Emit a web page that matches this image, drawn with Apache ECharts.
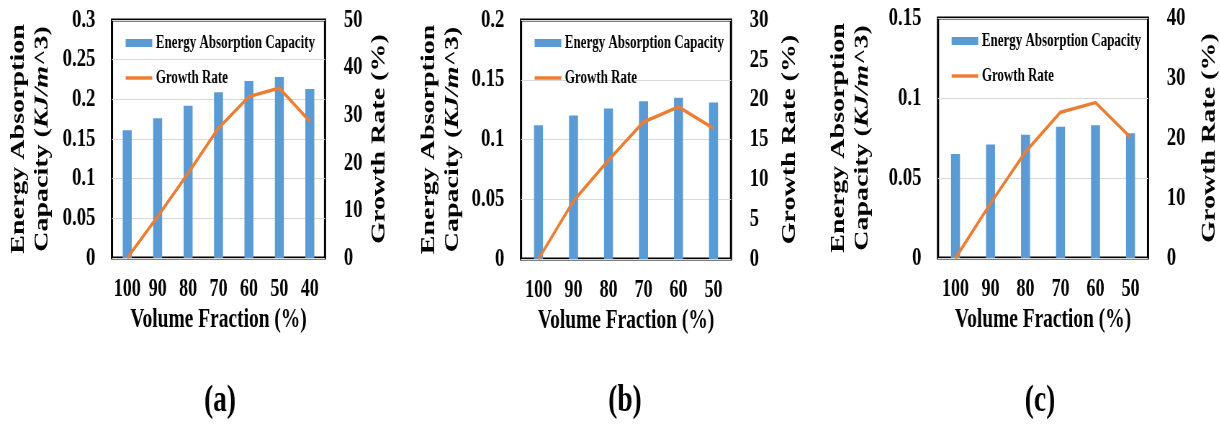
<!DOCTYPE html>
<html>
<head>
<meta charset="utf-8">
<script src="https://cdn.jsdelivr.net/npm/echarts@6/dist/echarts.min.js"></script>
<style>
  html, body { margin: 0; padding: 0; background: #fff; overflow: hidden; }
  /* the source figure is squeezed sideways, so the chart is drawn wider and squeezed back */
  #main { width: 1695px; height: 425px; transform: scaleX(0.72); transform-origin: 0 0; }
</style>
</head>
<body>
<div id="main"></div>
<script>
// data
const catsA = ['100', '90', '80', '70', '60', '50', '40'];
const energyA = [0.161, 0.176, 0.192, 0.209, 0.223, 0.228, 0.213];
const growthA = [0, 8.7, 17.8, 27.3, 33.9, 35.7, 28.7];

const catsB = ['100', '90', '80', '70', '60', '50'];
const energyB = [0.112, 0.120, 0.126, 0.132, 0.135, 0.131];
const growthB = [0, 7.3, 12.4, 17.2, 19.1, 16.4];

const catsC = ['100', '90', '80', '70', '60', '50'];
const energyC = [0.065, 0.071, 0.077, 0.082, 0.083, 0.078];
const growthC = [0, 9.1, 17.7, 24.3, 25.9, 20.1];

const panelLabels = ['(a)', '(b)', '(c)'];

const SX = 0.72;
const px = v => v / SX;

const FONT = '"Liberation Serif", "Times New Roman", serif';
const BAR_COLOR = '#5b9bd5';
const LINE_COLOR = '#ed7d31';
const ENERGY = 'Energy Absorption Capacity';
const GROWTH = 'Growth Rate';
// plain line for the legend, no dot in the middle
const LINE_ICON = 'path://M0,0L0,0.01M0,2.3L37,2.3L37,5.7L0,5.7ZM0,8L0,8.01';

const panels = [
  { cats: catsA, energy: energyA, growth: growthA, box: [112, 20, 213, 238], leftMax: 0.3, rightMax: 50, rightStep: 10, leftGap: 80, rightGap: 61, labelX: 220 },
  { cats: catsB, energy: energyB, growth: growthB, box: [521, 20, 210, 239], leftMax: 0.2, rightMax: 30, rightStep: 5, leftGap: 78, rightGap: 67, labelX: 625 },
  { cats: catsC, energy: energyC, growth: growthC, box: [938, 18, 210, 240], leftMax: 0.15, rightMax: 40, rightStep: 10, leftGap: 89, rightGap: 71, labelX: 1040 }
];

const tickText = { color: '#000', fontFamily: FONT, fontWeight: 'bold', fontSize: 26 };
const nameText = { color: '#000', fontFamily: FONT, fontWeight: 'bold', fontSize: 28 };

const grid = [], xAxis = [], yAxis = [], series = [], legend = [], graphic = [];

panels.forEach((p, i) => {
  const [l, t, w, h] = p.box;
  grid.push({ left: px(l), top: t, width: px(w), height: h, show: true, borderColor: '#000', borderWidth: 3, containLabel: false });

  xAxis.push({
    type: 'category',
    gridIndex: i,
    data: p.cats,
    name: 'Volume Fraction (%)',
    nameLocation: 'middle',
    nameGap: 49,
    nameTextStyle: { ...nameText, fontSize: 27 },
    axisLine: { show: false },
    axisTick: { show: false },
    axisLabel: { ...tickText, fontSize: 25, margin: 19, interval: 0 }
  });

  yAxis.push({
    type: 'value',
    gridIndex: i,
    min: 0,
    max: p.leftMax,
    interval: 0.05,
    name: 'Energy Absorption\n{n|Capacity (}{i|KJ/m}{n|^3)}',
    nameLocation: 'middle',
    nameRotate: 90,
    nameGap: p.leftGap,
    nameTextStyle: {
      ...nameText,
      lineHeight: 33,
      rich: {
        n: { ...nameText, lineHeight: 33 },
        i: { ...nameText, fontStyle: 'italic', lineHeight: 33 }
      }
    },
    axisLine: { show: false },
    axisTick: { show: false },
    axisLabel: { ...tickText, margin: 23 },
    splitLine: { lineStyle: { color: '#d9d9d9', width: 1 } }
  });

  yAxis.push({
    type: 'value',
    gridIndex: i,
    position: 'right',
    min: 0,
    max: p.rightMax,
    interval: p.rightStep,
    name: 'Growth Rate (%)',
    nameLocation: 'middle',
    nameRotate: 90,
    nameGap: p.rightGap,
    nameTextStyle: nameText,
    axisLine: { show: false },
    axisTick: { show: false },
    axisLabel: { ...tickText, margin: 26 },
    splitLine: { show: false }
  });

  series.push({
    name: ENERGY,
    type: 'bar',
    xAxisIndex: i,
    yAxisIndex: i * 2,
    barWidth: 12.5,
    itemStyle: { color: BAR_COLOR },
    data: p.energy
  });

  series.push({
    name: GROWTH,
    type: 'line',
    xAxisIndex: i,
    yAxisIndex: i * 2 + 1,
    symbol: 'none',
    lineStyle: { color: LINE_COLOR, width: 3.5 },
    itemStyle: { color: LINE_COLOR },
    data: p.growth,
    z: 3
  });

  legend.push({
    orient: 'vertical',
    left: px(l + 10),
    top: t + 9,
    itemWidth: 37,
    itemHeight: 8,
    itemGap: 17,
    textStyle: { color: '#000', fontFamily: FONT, fontWeight: 'bold', fontSize: 18 },
    data: [{ name: ENERGY, icon: 'rect' }, { name: GROWTH, icon: LINE_ICON }]
  });

  graphic.push({
    type: 'text',
    x: px(p.labelX),
    y: 401,
    style: {
      text: panelLabels[i],
      fill: '#000',
      font: 'bold 38px "Liberation Serif", serif',
      textAlign: 'center',
      textVerticalAlign: 'middle'
    }
  });
});

const chart = echarts.init(document.getElementById('main'));
chart.setOption({
  backgroundColor: '#fff',
  animation: false,
  grid: grid,
  xAxis: xAxis,
  yAxis: yAxis,
  legend: legend,
  series: series,
  graphic: graphic
});
</script>
</body>
</html>
